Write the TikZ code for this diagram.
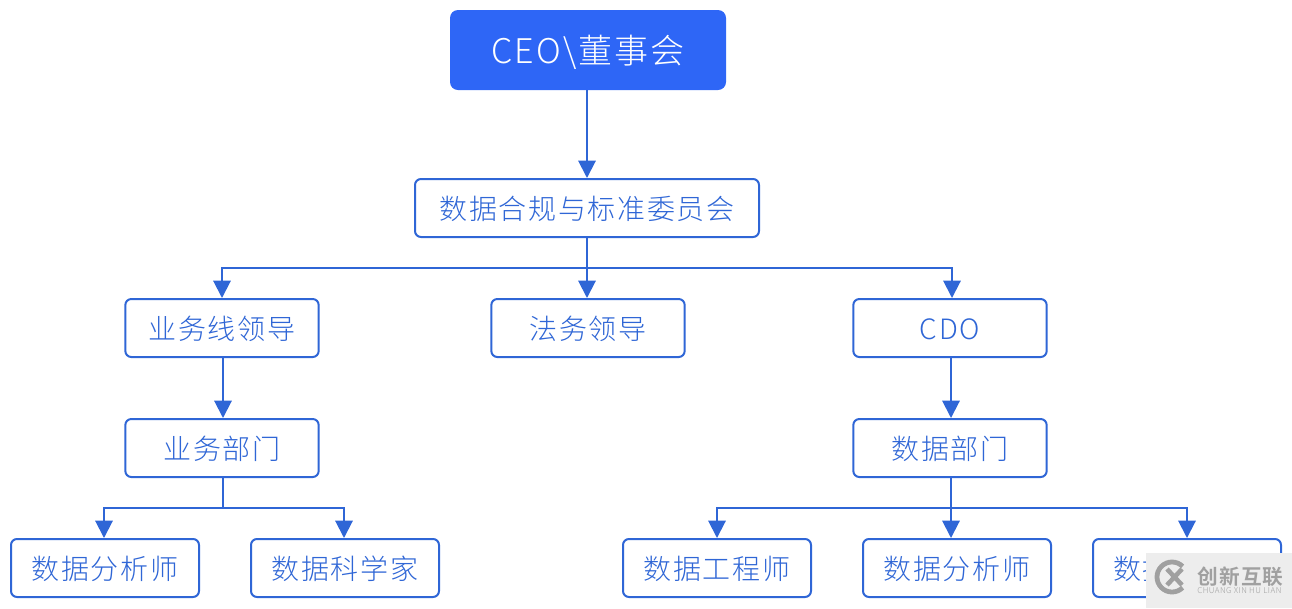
\documentclass[tikz,border=0pt]{standalone}
\usepackage{fontspec}
\setmainfont{Noto Sans CJK SC Light}[LetterSpace=6,BoldFont={Noto Sans CJK SC Bold}]
\usetikzlibrary{arrows.meta}
\definecolor{bossblue}{HTML}{2E66F6}
\definecolor{linkblue}{HTML}{2F66D6}
\definecolor{wmgray}{HTML}{A0A0A0}
\tikzset{
    box/.style={draw=linkblue,line width=1.5pt,rounded corners=4.5pt,fill=white,text=linkblue,
        minimum height=43.5pt,inner sep=0pt,text height=18.5pt,text depth=1.5pt,font=\fontsize{21}{24}\selectfont},
    wide/.style={box,minimum width=145pt},
    small/.style={box,minimum width=141pt},
    boss/.style={fill=bossblue,rounded corners=6pt,text=white,minimum width=207pt,minimum height=60pt,
        inner sep=0pt,text height=20.5pt,text depth=1pt,font=\fontsize{25.5}{29}\selectfont},
    link/.style={draw=linkblue,line width=1.5pt,-{Triangle[length=13pt,width=13pt]}},
    wire/.style={draw=linkblue,line width=1.5pt}
}
\begin{document}
\begin{tikzpicture}[x=0.75pt,y=-0.75pt]
    \useasboundingbox (0,0) rectangle (1292,608);
    \node [boss] (ceo) at (588,50) {CEO\textbackslash 董事会};
    \node [box,minimum width=258pt] (comm) at (587,208) {数据合规与标准委员会};
    \node [wide] (bizlead) at (222,328) {业务线领导};
    \node [wide] (legal) at (588,328) {法务领导};
    \node [wide] (cdo) at (950,328) {CDO};
    \node [wide] (bizdept) at (222,448) {业务部门};
    \node [wide] (datadept) at (950,448) {数据部门};
    \node [small] (analysta) at (105,568) {数据分析师};
    \node [small] (scientist) at (345,568) {数据科学家};
    \node [small] (engineer) at (717,568) {数据工程师};
    \node [small] (analystb) at (957,568) {数据分析师};
    \node [small] (third) at (1187,568) {};
    \node [text=linkblue,anchor=west,inner sep=0pt,text height=18.5pt,text depth=1.5pt,font=\fontsize{21}{24}\selectfont] (thirdtext) at (1113,568) {数据};

    \coordinate (topbus) at (587,268);
    \coordinate (bizbus) at (223,508);
    \coordinate (databus) at (951,508);

    \draw [link] (ceo.south -| topbus) -- (comm.north -| topbus);
    \draw [wire] (comm.south -| topbus) -- (topbus);
    \draw [link] (topbus) -- (legal.north -| topbus);
    \draw [link] (topbus) -| (bizlead.north);
    \draw [link] (topbus) -| ([xshift=1.5pt]cdo.north);
    \draw [link] (bizlead.south -| bizbus) -- (bizdept.north -| bizbus);
    \draw [wire] (bizdept.south -| bizbus) -- (bizbus);
    \draw [link] (bizbus) -| ([xshift=-0.75pt]analysta.north);
    \draw [link] (bizbus) -| ([xshift=-0.75pt]scientist.north);
    \draw [link] (cdo.south -| databus) -- (datadept.north -| databus);
    \draw [wire] (datadept.south -| databus) -- (databus);
    \draw [link] (databus) -| (engineer.north);
    \draw [link] (databus) -- (analystb.north -| databus);
    \draw [link] (databus) -| (third.north);

    \fill [white!93!black] (1146,553) rectangle (1292,608);
    \draw [wmgray,line width=3.6pt] (1172,577) ++(45:15) arc (45:315:15);
    \draw [wmgray,line width=3.4pt] (1167,569) -- (1182,585);
    \draw [wmgray,line width=3.4pt] (1167,585) -- (1182,569);
    \node [text=wmgray,anchor=west,inner sep=0pt,font=\bfseries\fontsize{15.5}{18}\selectfont] (wmname) at (1197,577) {创新互联};
    \node [text=wmgray,anchor=west,inner sep=0pt,font=\fontsize{6}{6}\selectfont] (wmpinyin) at (1197,591) {CHUANG XIN HU LIAN};
\end{tikzpicture}
\end{document}
